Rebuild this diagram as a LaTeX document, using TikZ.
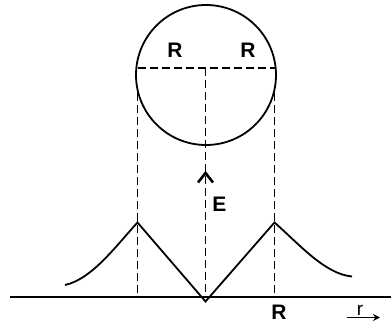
\documentclass[tikz,border=0pt]{standalone}
\usepackage{fontspec}
\setmainfont{Liberation Sans}
\usetikzlibrary{arrows.meta}
\begin{document}
\begin{tikzpicture}[x=1pt,y=-1pt,
  solidline/.style={line width=1.8pt},
  dashline/.style={line width=1.8pt, dash pattern=on 8pt off 4pt},
  lbl/.style={inner sep=0pt, font=\fontsize{21}{21}\selectfont\bfseries}]
\useasboundingbox (0,0) rectangle (391,323);
% points
\coordinate (C) at (206,75);
\coordinate (DL) at (137.5,68);
\coordinate (DR) at (274.5,68);
\coordinate (DM) at (205.5,68);
\coordinate (SL) at (137.5,93);
\coordinate (SR) at (274.5,93);
\coordinate (AL) at (137.5,297);
\coordinate (AR) at (274.5,297);
\coordinate (AM) at (205.5,297);
\coordinate (PL) at (137.5,222.5);
\coordinate (PR) at (274.5,222.5);
\coordinate (V) at (205.5,301.5);
\coordinate (TL) at (65,285);
\coordinate (TR) at (352,276.5);
\coordinate (X0) at (10,297);
\coordinate (X1) at (391,297);
% circle
\draw[solidline] (C) circle[radius=70];
% dashed lines
\draw[dashline] (DL) -- (DR);
\draw[dashline] (DM) -- (AM);
\draw[dashline] (SL) -- (AL);
\draw[dashline] (SR) -- (AR);
% axis
\draw[solidline] (X0) -- (X1);
% field curve
\draw[solidline, line join=miter] (TL) .. controls (92,279) and (115,247) .. (PL) -- (V) -- (PR)
  .. controls (300,245) and (325,274) .. (TR);
% arrow chevron
\coordinate (E1) at (198,182.5);
\coordinate (E2) at (205.5,173);
\coordinate (E3) at (213,182.5);
\draw[line width=2.6pt, line join=miter] (E1) -- (E2) -- (E3);
% labels
\node[lbl] (rl) at (175,50) {R};
\node[lbl] (rr) at (248,50) {R};
\node[lbl] (el) at (219.5,204) {E};
\node[lbl] (rb) at (279,312) {R};
\node[inner sep=0pt, font=\fontsize{19}{19}\selectfont, anchor=base] (rv) at (360,316) {r};
\coordinate (RA0) at (347,317.5);
\coordinate (RA1) at (380,317.5);
\draw[line width=1.6pt, -{Stealth[length=7pt,width=7pt]}] (RA0) -- (RA1);
\end{tikzpicture}
\end{document}
